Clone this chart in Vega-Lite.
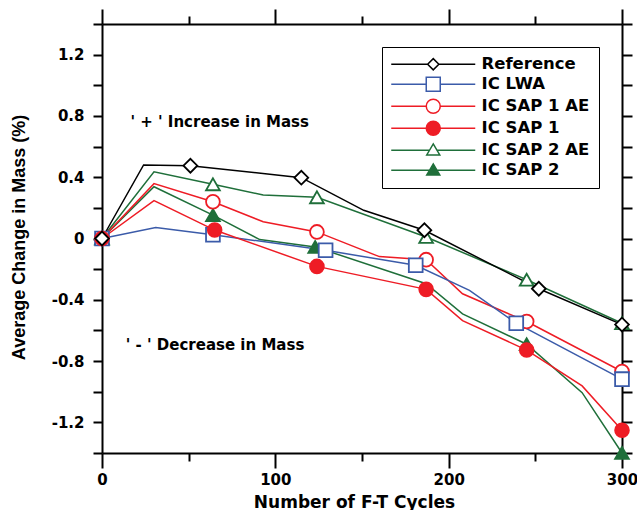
{
  "$schema": "https://vega.github.io/schema/vega-lite/v6.json",
  "width": 520,
  "height": 429,
  "autosize": "none",
  "padding": {"left": 102, "top": 24, "right": 15, "bottom": 57},
  "background": "white",
  "config": {"view": {"stroke": null}},
  "datasets": {
    "pts": [
      {"series": "IC SAP 2", "x": 0, "y": 0, "m": 1},
      {"series": "IC SAP 2", "x": 30, "y": 0.338, "m": 0},
      {"series": "IC SAP 2", "x": 64, "y": 0.153, "m": 1},
      {"series": "IC SAP 2", "x": 91, "y": -0.007, "m": 0},
      {"series": "IC SAP 2", "x": 123, "y": -0.055, "m": 1},
      {"series": "IC SAP 2", "x": 187, "y": -0.295, "m": 0},
      {"series": "IC SAP 2", "x": 208, "y": -0.492, "m": 0},
      {"series": "IC SAP 2", "x": 245, "y": -0.69, "m": 1},
      {"series": "IC SAP 2", "x": 277, "y": -1.006, "m": 0},
      {"series": "IC SAP 2", "x": 300, "y": -1.4, "m": 1},
      {"series": "IC SAP 2 AE", "x": 0, "y": 0, "m": 1},
      {"series": "IC SAP 2 AE", "x": 30, "y": 0.435, "m": 0},
      {"series": "IC SAP 2 AE", "x": 64, "y": 0.354, "m": 1},
      {"series": "IC SAP 2 AE", "x": 93, "y": 0.284, "m": 0},
      {"series": "IC SAP 2 AE", "x": 124, "y": 0.269, "m": 1},
      {"series": "IC SAP 2 AE", "x": 187, "y": 0.01, "m": 1},
      {"series": "IC SAP 2 AE", "x": 245, "y": -0.269, "m": 1},
      {"series": "IC SAP 2 AE", "x": 300, "y": -0.553, "m": 1},
      {"series": "IC SAP 1 AE", "x": 0, "y": 0, "m": 1},
      {"series": "IC SAP 1 AE", "x": 30, "y": 0.358, "m": 0},
      {"series": "IC SAP 1 AE", "x": 64, "y": 0.24, "m": 1},
      {"series": "IC SAP 1 AE", "x": 93, "y": 0.109, "m": 0},
      {"series": "IC SAP 1 AE", "x": 124, "y": 0.043, "m": 1},
      {"series": "IC SAP 1 AE", "x": 160, "y": -0.118, "m": 0},
      {"series": "IC SAP 1 AE", "x": 187, "y": -0.138, "m": 1},
      {"series": "IC SAP 1 AE", "x": 208, "y": -0.361, "m": 0},
      {"series": "IC SAP 1 AE", "x": 245, "y": -0.542, "m": 1},
      {"series": "IC SAP 1 AE", "x": 300, "y": -0.868, "m": 1},
      {"series": "IC LWA", "x": 0, "y": 0, "m": 1},
      {"series": "IC LWA", "x": 31, "y": 0.072, "m": 0},
      {"series": "IC LWA", "x": 64, "y": 0.025, "m": 1},
      {"series": "IC LWA", "x": 129, "y": -0.077, "m": 1},
      {"series": "IC LWA", "x": 181, "y": -0.175, "m": 1},
      {"series": "IC LWA", "x": 212, "y": -0.339, "m": 0},
      {"series": "IC LWA", "x": 239, "y": -0.553, "m": 1},
      {"series": "IC LWA", "x": 300, "y": -0.918, "m": 1},
      {"series": "IC SAP 1", "x": 0, "y": 0, "m": 1},
      {"series": "IC SAP 1", "x": 30, "y": 0.247, "m": 0},
      {"series": "IC SAP 1", "x": 65, "y": 0.055, "m": 1},
      {"series": "IC SAP 1", "x": 124, "y": -0.182, "m": 1},
      {"series": "IC SAP 1", "x": 187, "y": -0.332, "m": 1},
      {"series": "IC SAP 1", "x": 208, "y": -0.536, "m": 0},
      {"series": "IC SAP 1", "x": 245, "y": -0.728, "m": 1},
      {"series": "IC SAP 1", "x": 277, "y": -0.962, "m": 0},
      {"series": "IC SAP 1", "x": 300, "y": -1.252, "m": 1},
      {"series": "Reference", "x": 0, "y": 0, "m": 1},
      {"series": "Reference", "x": 24, "y": 0.48, "m": 0},
      {"series": "Reference", "x": 51, "y": 0.475, "m": 1},
      {"series": "Reference", "x": 115, "y": 0.397, "m": 1},
      {"series": "Reference", "x": 151, "y": 0.184, "m": 0},
      {"series": "Reference", "x": 186, "y": 0.054, "m": 1},
      {"series": "Reference", "x": 252, "y": -0.328, "m": 1},
      {"series": "Reference", "x": 300, "y": -0.562, "m": 1}
    ],
    "notes": [
      {"x": 16.4, "y": 0.731, "text": "' + ' Increase in Mass"},
      {"x": 13.7, "y": -0.726, "text": "' - ' Decrease in Mass"}
    ]
  },
  "resolve": {
    "scale": {"shape": "independent", "stroke": "independent", "fill": "independent"},
    "axis": {"x": "independent", "y": "independent"}
  },
  "layer": [
    {
      "mark": {"type": "rule", "strokeDash": [9, 5], "strokeWidth": 1.5, "color": "black"},
      "encoding": {
        "x": {"datum": 0, "type": "quantitative", "scale": {"domain": [0, 300], "nice": false, "zero": false},
          "axis": {"orient": "top", "values": [0, 50, 100, 150, 200, 250, 300], "labels": false, "title": null, "grid": false,
            "tickSize": {"condition": {"test": "datum.value % 100 === 0", "value": 15}, "value": 8},
            "tickWidth": 2, "tickColor": "black", "domainWidth": 2, "domainColor": "black"}},
        "x2": {"datum": 300},
        "y": {"datum": 0, "type": "quantitative", "scale": {"domain": [-1.4, 1.4], "nice": false, "zero": false},
          "axis": {"orient": "right", "values": [-1.4, -1.2, -1, -0.8, -0.6, -0.4, -0.2, 0, 0.2, 0.4, 0.6, 0.8, 1, 1.2, 1.4], "labels": false, "title": null, "grid": false,
            "tickSize": 10, "tickWidth": 2, "tickColor": "black", "domainWidth": 2, "domainColor": "black"}}
      }
    },
    {
      "data": {"name": "pts"},
      "mark": {"type": "line", "strokeWidth": 1.5},
      "encoding": {
        "x": {"field": "x", "type": "quantitative", "scale": {"domain": [0, 300], "nice": false, "zero": false},
          "axis": {"orient": "bottom", "values": [0, 50, 100, 150, 200, 250, 300], "grid": false,
            "labelExpr": "datum.value % 100 === 0 ? datum.label : ''",
            "tickSize": {"condition": {"test": "datum.value % 100 === 0", "value": 15}, "value": 8},
            "tickWidth": 2, "tickColor": "black", "domainWidth": 2, "domainColor": "black",
            "labelFont": "DejaVu Sans", "labelFontWeight": "bold", "labelFontSize": 15, "labelColor": "black", "labelPadding": 4,
            "labelFlush": false, "labelOverlap": false,
            "title": "Number of F-T Cycles", "titleFont": "DejaVu Sans", "titleFontWeight": "bold", "titleFontSize": 17, "titleColor": "black",
            "titleX": 252, "titleY": 54, "titleBaseline": "alphabetic", "titleAlign": "center"}},
        "y": {"field": "y", "type": "quantitative", "scale": {"domain": [-1.4, 1.4], "nice": false, "zero": false},
          "axis": {"orient": "left", "values": [-1.4, -1.2, -1, -0.8, -0.6, -0.4, -0.2, 0, 0.2, 0.4, 0.6, 0.8, 1, 1.2, 1.4], "grid": false,
            "labelExpr": "abs(round(datum.value*10)) % 4 === 0 ? (datum.value < 0 ? '-' : '') + (datum.value === 0 ? '0' : format(abs(datum.value), '.1f')) : ''",
            "tickSize": 9, "tickWidth": 2, "tickColor": "black", "domainWidth": 2, "domainColor": "black",
            "labelFont": "DejaVu Sans", "labelFontWeight": "bold", "labelFontSize": 15, "labelColor": "black", "labelPadding": 9,
            "labelOverlap": false,
            "title": "Average Change in Mass (%)", "titleFont": "Liberation Sans", "titleFontWeight": "bold", "titleFontSize": 18, "titleColor": "black",
            "titleX": -78, "titleY": 213, "titleBaseline": "alphabetic", "titleAlign": "center", "titleAngle": -90}},
        "color": {"field": "series", "type": "nominal", "legend": null,
          "scale": {"domain": ["Reference", "IC LWA", "IC SAP 1 AE", "IC SAP 1", "IC SAP 2 AE", "IC SAP 2"],
            "range": ["#000000", "#3b5ba9", "#ee1c25", "#ee1c25", "#1f6f3a", "#1f6f3a"]}},
        "detail": {"field": "series"}
      }
    },
    {
      "data": {"name": "pts"},
      "transform": [{"filter": "datum.m == 1"}],
      "mark": {"type": "point", "size": 190, "strokeWidth": 1.8, "opacity": 1},
      "encoding": {
        "x": {"field": "x", "type": "quantitative", "axis": null},
        "y": {"field": "y", "type": "quantitative", "axis": null},
        "shape": {"field": "series", "type": "nominal", "legend": null,
          "scale": {"domain": ["Reference", "IC LWA", "IC SAP 1 AE", "IC SAP 1", "IC SAP 2 AE", "IC SAP 2"],
            "range": ["diamond", "square", "circle", "circle", "triangle-up", "triangle-up"]}},
        "stroke": {"field": "series", "type": "nominal", "legend": null,
          "scale": {"domain": ["Reference", "IC LWA", "IC SAP 1 AE", "IC SAP 1", "IC SAP 2 AE", "IC SAP 2"],
            "range": ["#000000", "#3b5ba9", "#ee1c25", "#ee1c25", "#1f6f3a", "#1f6f3a"]}},
        "fill": {"field": "series", "type": "nominal", "legend": null,
          "scale": {"domain": ["Reference", "IC LWA", "IC SAP 1 AE", "IC SAP 1", "IC SAP 2 AE", "IC SAP 2"],
            "range": ["#ffffff", "#ffffff", "#ffffff", "#ee1c25", "#ffffff", "#1f6f3a"]}}
      }
    },
    {
      "data": {"name": "pts"},
      "transform": [{"filter": "datum.m == 1"}],
      "mark": {"type": "point", "size": 196, "strokeWidth": 1.5, "opacity": 0},
      "encoding": {
        "x": {"field": "x", "type": "quantitative", "axis": null},
        "y": {"field": "y", "type": "quantitative", "axis": null},
        "shape": {"field": "series", "type": "nominal",
          "scale": {"domain": ["Reference", "IC LWA", "IC SAP 1 AE", "IC SAP 1", "IC SAP 2 AE", "IC SAP 2"],
            "range": [
              "M-6,0H-0.8M0.8,0H6M-0.8,0L0,-0.8L0.8,0L0,0.8Z",
              "M-6,0H-1M1,0H6M-1,-1H1V1H-1Z",
              "M-6,0H-1M1,0H6M-1,0A1,1,0,1,1,1,0A1,1,0,1,1,-1,0Z",
              "M-6,0H-1M1,0H6M-1,0A1,1,0,1,1,1,0A1,1,0,1,1,-1,0Z",
              "M-6,0H-0.53M0.53,0H6M0,-0.9L0.93,0.67H-0.93Z",
              "M-6,0H-0.53M0.53,0H6M0,-0.9L0.93,0.67H-0.93Z"
            ]},
          "legend": {"orient": "none", "legendX": 280, "legendY": 23, "title": null,
            "symbolSize": 196, "symbolStrokeWidth": 1.5, "symbolOpacity": 1,
            "symbolOffset": 34, "labelOffset": 40,
            "labelFont": "DejaVu Sans", "labelFontWeight": "bold", "labelFontSize": 16.5, "labelColor": "black",
            "rowPadding": 1, "padding": 9, "strokeColor": "black", "fillColor": "white"}},
        "stroke": {"field": "series", "type": "nominal",
          "scale": {"domain": ["Reference", "IC LWA", "IC SAP 1 AE", "IC SAP 1", "IC SAP 2 AE", "IC SAP 2"],
            "range": ["#000000", "#3b5ba9", "#ee1c25", "#ee1c25", "#1f6f3a", "#1f6f3a"]}},
        "fill": {"field": "series", "type": "nominal",
          "scale": {"domain": ["Reference", "IC LWA", "IC SAP 1 AE", "IC SAP 1", "IC SAP 2 AE", "IC SAP 2"],
            "range": ["#ffffff", "#ffffff", "#ffffff", "#ee1c25", "#ffffff", "#1f6f3a"]}}
      }
    },
    {
      "data": {"name": "notes"},
      "mark": {"type": "text", "align": "left", "baseline": "alphabetic", "font": "DejaVu Sans", "fontWeight": "bold", "fontSize": 15, "color": "black"},
      "encoding": {
        "x": {"field": "x", "type": "quantitative", "axis": null},
        "y": {"field": "y", "type": "quantitative", "axis": null},
        "text": {"field": "text"}
      }
    }
  ]
}
